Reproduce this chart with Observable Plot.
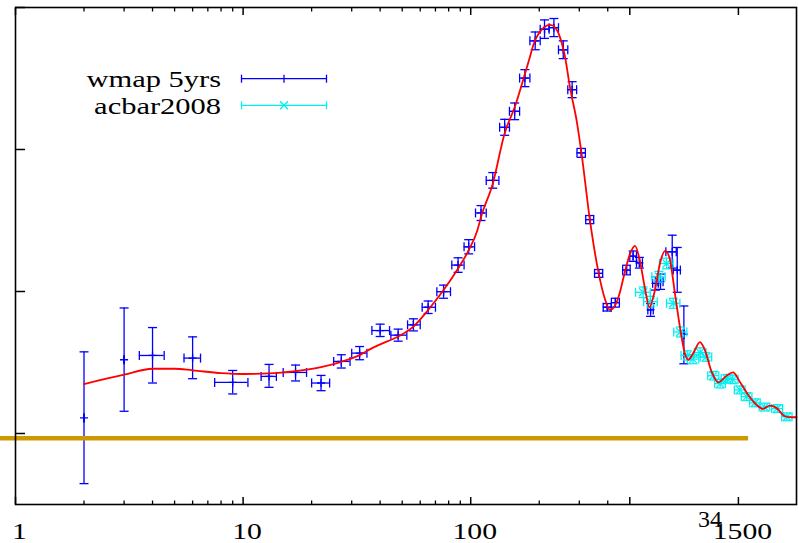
<!DOCTYPE html>
<html><head><meta charset="utf-8">
<script src="https://cdn.jsdelivr.net/npm/d3@7"></script>
<script src="https://cdn.jsdelivr.net/npm/@observablehq/plot@0.6"></script>
<style>html,body{margin:0;padding:0;background:#fff;} #chart{width:799px;height:543px;}</style>
</head><body><div id="chart"></div>
<script>
// ---- WMAP 5yr binned points ----
const wmapL    = [2, 3, 4, 6, 9, 13, 17, 22, 27, 32.5, 40, 48, 56, 65, 76, 88, 98, 111, 125, 141, 156, 173, 192, 211, 232, 255, 279, 306, 333, 365, 398, 432, 484, 517, 551, 617, 648, 682, 768, 808, 864];
const wmapC    = [220, 1039, 1099, 1062, 720, 804, 860, 711, 1015, 1132, 1450, 1385, 1530, 1778, 1997, 2372, 2629, 3106, 3565, 4313, 4538, 5006, 5530, 5694, 5716, 5404, 4842, 3953, 3013, 2255, 1778, 1843, 2302, 2498, 2404, 1740, 2115, 2138, 2559, 2302, 1399];
const wmapLo   = [-706, 313, 711, 772, 557, 650, 740, 603, 922, 1039, 1366, 1300, 1445, 1690, 1905, 2270, 2530, 3000, 3455, 4200, 4420, 4885, 5405, 5565, 5590, 5280, 4730, 3890, 2955, 2200, 1725, 1780, 2235, 2425, 2330, 1650, 2020, 2030, 2330, 1989, 982];
const wmapHi   = [1150, 1768, 1492, 1361, 888, 973, 964, 818, 1109, 1225, 1540, 1470, 1615, 1866, 2090, 2475, 2730, 3210, 3675, 4425, 4655, 5125, 5655, 5825, 5845, 5530, 4955, 4015, 3070, 2310, 1830, 1905, 2370, 2570, 2480, 1830, 2210, 2245, 2793, 2620, 1796];
const wmapLmin = [2, 3, 3.5, 5.5, 7.5, 12, 15, 20, 25, 30, 36.8, 44.6, 52.8, 61.2, 71, 82.6, 93.5, 105, 117, 134, 148, 164, 182, 202, 221, 243, 267, 293, 320, 350, 382, 415, 465, 500, 535, 600, 630, 665, 720, 776, 860];
const wmapLmax = [2, 3, 4.5, 6.5, 10.5, 14, 19, 24, 29.5, 35, 44, 52.4, 60, 70, 81.5, 93.5, 104, 117, 133, 148, 164, 182, 202, 221, 243, 267, 292, 319, 347, 380, 414, 450, 502, 535, 568, 634, 667, 700, 800, 834, 868];

// ---- ACBAR 2008 points ----
const acbarL    = [572, 617, 671, 725, 776, 833, 894, 948, 1019, 1081, 1164, 1247, 1334, 1417, 1522, 1632, 1775, 1954, 2222, 2450];
const acbarC    = [1989, 1857, 2208, 2395, 1834, 1430, 1100, 1048, 1141, 1077, 814, 702, 772, 762, 614, 519, 432, 372, 351, 235];
const acbarErr  = [75, 75, 75, 75, 70, 70, 65, 65, 65, 60, 60, 60, 60, 60, 55, 55, 55, 55, 55, 55];
const acbarLmin = [530, 575, 625, 675, 725, 780, 840, 895, 960, 1020, 1100, 1180, 1260, 1340, 1440, 1545, 1680, 1850, 2100, 2320];
const acbarLmax = [615, 660, 715, 775, 830, 890, 950, 1005, 1080, 1145, 1230, 1315, 1410, 1495, 1605, 1720, 1870, 2060, 2345, 2580];

// ---- model curve ----
const modelL = [2, 3, 4, 5, 6, 8, 10, 13, 17, 22, 27, 33, 36, 40, 48, 56, 65, 76, 88, 98, 107, 111, 125, 141, 156, 173, 180, 189, 206, 223, 235, 247, 260, 273, 292, 307, 334, 365, 390, 409, 432, 453, 470, 502, 527, 553, 581, 610, 640, 684, 714, 745, 793, 834, 876, 905, 951, 1016, 1068, 1142, 1223, 1330, 1421, 1518, 1654, 1798, 1925, 2059, 2201, 2400, 2560, 2700];
const modelC = [697, 828, 912, 912, 890, 850, 838, 846, 880, 936, 1010, 1115, 1185, 1255, 1366, 1506, 1740, 2021, 2325, 2582, 2863, 3050, 3519, 4230, 4594, 5063, 5249, 5483, 5694, 5754, 5716, 5576, 5295, 4874, 4407, 3940, 3004, 2255, 1881, 1740, 1811, 1997, 2208, 2536, 2643, 2442, 2067, 1778, 1975, 2442, 2572, 2488, 1927, 1460, 1109, 1039, 1133, 1287, 1179, 874, 720, 814, 860, 734, 547, 407, 347, 393, 361, 243, 229, 229];

// ---- horizontal reference line ----
const refLineY = -67;
const refLineX = [0.5, 1663];

// ---- axes ----
const xMajorTicks = [1, 10, 100, 500, 1500];
const xMinorTicks = [2, 3, 4, 5, 6, 7, 8, 9, 20, 30, 40, 50, 60, 70, 80, 90, 200, 300, 400];
const xTickLabels = [1, 10, 100, 500, 1500];
const yTicks = [0, 2000, 4000, 6000];
const legendLabels = ["wmap 5yrs", "acbar2008"];
const strayLabel = "34";

const BLUE = "#0000ff", CYAN = "#00f0f0", RED = "#ff0000", GOLD = "#cc9a00";

const wmap = wmapL.map((l, i) => ({l, c: wmapC[i], lo: wmapLo[i], hi: wmapHi[i], x1: wmapLmin[i], x2: wmapLmax[i]}));
const acbar = acbarL.map((l, i) => ({l, c: acbarC[i], lo: acbarC[i] - acbarErr[i], hi: acbarC[i] + acbarErr[i], x1: acbarLmin[i], x2: acbarLmax[i]}));
const model = modelL.map((l, i) => ({l, c: modelC[i]}));
const refLine = [{y: refLineY, x1: refLineX[0], x2: refLineX[1]}];

const hcap = {draw(ctx, size) {const r = Math.sqrt(size / Math.PI); ctx.moveTo(-r, 0); ctx.lineTo(r, 0);}};
const vcap = {draw(ctx, size) {const r = Math.sqrt(size / Math.PI); ctx.moveTo(0, -r); ctx.lineTo(0, r);}};
const plusSym = {draw(ctx, size) {const r = Math.sqrt(size / Math.PI); ctx.moveTo(-r, 0); ctx.lineTo(r, 0); ctx.moveTo(0, -r); ctx.lineTo(0, r);}};
const xSym = {draw(ctx, size) {const r = Math.sqrt(size / Math.PI); ctx.moveTo(-r, -r); ctx.lineTo(r, r); ctx.moveTo(-r, r); ctx.lineTo(r, -r);}};

function errMarks(data, color, capR) {
  return [
    Plot.ruleX(data, {x: "l", y1: "lo", y2: "hi", stroke: color, strokeWidth: 1.3}),
    Plot.ruleY(data, {y: "c", x1: "x1", x2: "x2", stroke: color, strokeWidth: 1.3}),
    Plot.dot(data, {x: "l", y: "lo", symbol: hcap, r: capR, stroke: color, fill: "none", strokeWidth: 1.3}),
    Plot.dot(data, {x: "l", y: "hi", symbol: hcap, r: capR, stroke: color, fill: "none", strokeWidth: 1.3}),
    Plot.dot(data, {x: "x1", y: "c", symbol: vcap, r: capR, stroke: color, fill: "none", strokeWidth: 1.3}),
    Plot.dot(data, {x: "x2", y: "c", symbol: vcap, r: capR, stroke: color, fill: "none", strokeWidth: 1.3})
  ];
}

const plot = Plot.plot({
  width: 799, height: 543,
  marginLeft: 15, marginRight: 3, marginTop: 7, marginBottom: 39,
  style: {fontFamily: "'Liberation Serif', 'Times New Roman', serif", fontSize: "24px", background: "#fff", color: "#000"},
  x: {type: "log", domain: [1, 2700]},
  y: {domain: [-1000, 6000]},
  marks: [
    ...errMarks(wmap, BLUE, 4.5),
    Plot.dot(wmap, {x: "l", y: "c", symbol: plusSym, r: 4, stroke: BLUE, fill: "none", strokeWidth: 1.3}),
    ...errMarks(acbar, CYAN, 4.5),
    Plot.dot(acbar, {x: "l", y: "c", symbol: xSym, r: 4, stroke: CYAN, fill: "none", strokeWidth: 1.3}),
    Plot.line(model, {x: "l", y: "c", stroke: RED, strokeWidth: 1.8, curve: "monotone-x"}),
    Plot.ruleY(refLine, {y: "y", x1: "x1", x2: "x2", stroke: GOLD, strokeWidth: 4.3, clip: false}),
    Plot.axisX({anchor: "bottom", ticks: xMajorTicks, tickSize: -7, tickFormat: () => "", label: null, strokeWidth: 1.5}),
    Plot.axisX({anchor: "bottom", ticks: xMinorTicks, tickSize: -3.5, tickFormat: () => "", label: null, strokeWidth: 1.3}),
    Plot.axisX({anchor: "top", ticks: xMajorTicks, tickSize: -7, tickFormat: () => "", label: null, strokeWidth: 1.5}),
    Plot.axisX({anchor: "top", ticks: xMinorTicks, tickSize: -3.5, tickFormat: () => "", label: null, strokeWidth: 1.3}),
    Plot.axisX({anchor: "bottom", ticks: xTickLabels, tickSize: 0, tickPadding: 17, tickFormat: d => String(d), label: null, dx: 4, fontSize: 24}),
    Plot.axisY({anchor: "left", ticks: yTicks, tickSize: -10, tickFormat: () => "", label: null, strokeWidth: 1.5}),
    Plot.frame({stroke: "#000", strokeWidth: 1.6})
  ]
});

document.getElementById("chart").appendChild(plot);

// horizontally stretched serif lettering, like the original
plot.querySelectorAll('g[aria-label="x-axis tick label"] text').forEach(t => {
  const tr = t.getAttribute("transform") || "";
  t.setAttribute("transform", tr + " scale(1.24,1)");
});

const svg = d3.select(plot);
const lg = svg.append("g").attr("class", "legend");
const entries = [
  {label: legendLabels[0], color: BLUE, y: 78.7, sym: "plus"},
  {label: legendLabels[1], color: CYAN, y: 105.3, sym: "x"}
];
entries.forEach(e => {
  lg.append("text").text(e.label)
    .attr("transform", `translate(221,${e.y + 8.5}) scale(1.27,1)`)
    .attr("text-anchor", "end")
    .attr("font-family", "'Liberation Serif', serif")
    .attr("font-size", 24).attr("fill", "#000");
  const g = lg.append("g").attr("stroke", e.color).attr("stroke-width", 1.3).attr("fill", "none");
  g.append("line").attr("x1", 241.5).attr("x2", 326.5).attr("y1", e.y).attr("y2", e.y);
  g.append("line").attr("x1", 241.5).attr("x2", 241.5).attr("y1", e.y - 4).attr("y2", e.y + 4);
  g.append("line").attr("x1", 326.5).attr("x2", 326.5).attr("y1", e.y - 4).attr("y2", e.y + 4);
  if (e.sym === "plus") {
    g.append("line").attr("x1", 284).attr("x2", 284).attr("y1", e.y - 4).attr("y2", e.y + 4);
  } else {
    g.append("path").attr("d", `M280,${e.y - 4}L288,${e.y + 4}M280,${e.y + 4}L288,${e.y - 4}`);
  }
});
svg.append("text").text(strayLabel)
  .attr("x", 710).attr("y", 527)
  .attr("text-anchor", "middle")
  .attr("font-family", "'Liberation Serif', serif")
  .attr("font-size", 24).attr("fill", "#000");
</script>
</body></html>
